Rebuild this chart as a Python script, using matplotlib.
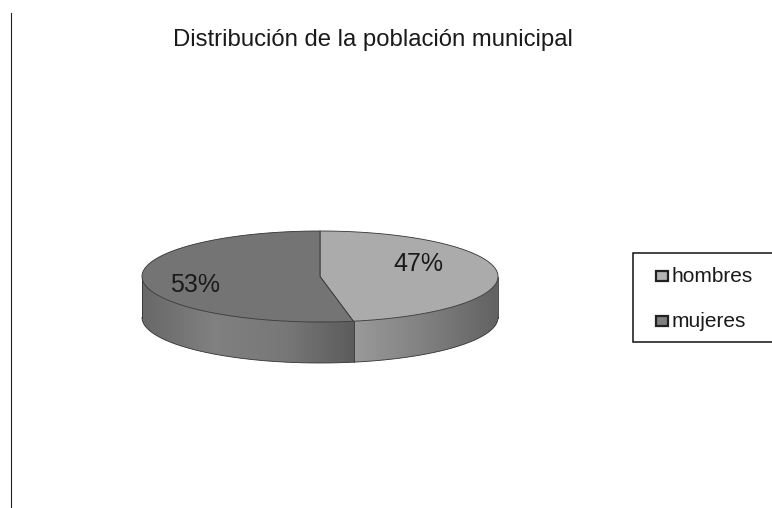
import numpy as np
import matplotlib
matplotlib.use('Agg')
import matplotlib.pyplot as plt
from matplotlib.patches import Rectangle, PathPatch
from matplotlib.path import Path
from matplotlib.colors import LinearSegmentedColormap

categories = ['hombres', 'mujeres']
values = [47, 53]
colors_top = ['#ababab', '#747474']
legend_colors = ['#b4b4b4', '#808080']

W, H = 772, 508
fig = plt.figure(figsize=(W / 100, H / 100), dpi=100)
ax = fig.add_axes([0, 0, 1, 1])
ax.set_xlim(0, W)
ax.set_ylim(H, 0)
ax.axis('off')

# ellipse of the pie top, in pixels
cx, cy, rx, ry = 320, 276.5, 178, 45.5
depth = 41


def pt(deg):
    a = np.radians(deg)
    return cx + rx * np.cos(a), cy - ry * np.sin(a)


# slices go clockwise from 12 o'clock, angles are squashed by the ellipse
angles = [90.0]
for v in values:
    angles.append(angles[-1] - v * 3.6)

# side wall, shaded left to right
side = LinearSegmentedColormap.from_list('side', ['#686868', '#808080', '#787878', '#5c5c5c'])
side2 = LinearSegmentedColormap.from_list('side2', ['#9a9a9a', '#808080', '#626262'])
split_x = pt(angles[1])[0] + 1

tt = np.radians(np.linspace(180, 360, 200))
xs = cx + rx * np.cos(tt)
ys = cy - ry * np.sin(tt)
verts = list(zip(xs, ys)) + list(zip(xs[::-1], ys[::-1] + depth))
wall = PathPatch(Path(verts + [verts[0]], [Path.MOVETO] + [Path.LINETO] * (len(verts) - 1) + [Path.CLOSEPOLY]),
                 fc='none', ec='none')
ax.add_patch(wall)

im1 = ax.imshow(np.linspace(0, 1, 256)[None, :], cmap=side, extent=(cx - rx, split_x, cy + ry + depth, cy),
                aspect='auto', zorder=1)
im1.set_clip_path(wall)
im2 = ax.imshow(np.linspace(0, 1, 256)[None, :], cmap=side2, extent=(split_x, cx + rx, cy + ry + depth, cy),
                aspect='auto', zorder=1)
im2.set_clip_path(wall)
ax.set_xlim(0, W)
ax.set_ylim(H, 0)

edge = '#333333'
ax.plot(xs, ys + depth, color=edge, lw=0.6, zorder=2)
ax.plot([cx - rx, cx - rx], [cy, cy + depth], color=edge, lw=0.6, zorder=2)
ax.plot([cx + rx, cx + rx], [cy, cy + depth], color=edge, lw=0.6, zorder=2)
ax.plot([split_x, split_x], [pt(angles[1])[1], pt(angles[1])[1] + depth], color=edge, lw=0.6, zorder=2)

# top faces
for i in range(len(values)):
    th = np.radians(np.linspace(angles[i], angles[i + 1], 200))
    x = np.r_[cx, cx + rx * np.cos(th)]
    y = np.r_[cy, cy - ry * np.sin(th)]
    ax.fill(x, y, fc=colors_top[i], ec=edge, lw=0.6, zorder=3)

font = ['Liberation Sans', 'DejaVu Sans']
ax.text(372.5, 40, 'Distribución de la población municipal', ha='center', va='center',
        fontsize=17.2, color='#1a1a1a', family=font)
ax.text(418, 264, '%d%%' % values[0], ha='center', va='center', fontsize=18, color='#1a1a1a', family=font, zorder=4)
ax.text(195, 285, '%d%%' % values[1], ha='center', va='center', fontsize=18, color='#1a1a1a', family=font, zorder=4)

# legend box runs off the right edge
ax.add_patch(Rectangle((633, 253), 140, 89, fc='white', ec='#111111', lw=1.1, zorder=3))
for name, col, yy in zip(categories, legend_colors, [276, 320.5]):
    ax.add_patch(Rectangle((655.5, yy - 5), 12, 10, fc=col, ec='#222222', lw=1.6, zorder=4))
    ax.text(671.5, yy + 1, name, ha='left', va='center', fontsize=15, color='#1a1a1a', family=font, zorder=4)

# rule at the left of the page
ax.plot([10.5, 10.5], [13, 508], color='#222222', lw=0.8)

fig.savefig('out.png', dpi=100)
